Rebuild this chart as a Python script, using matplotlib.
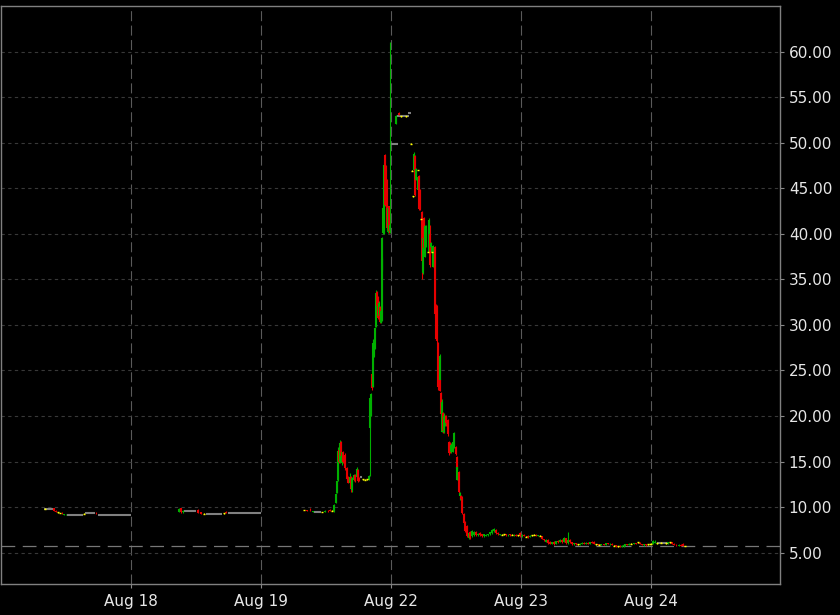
import matplotlib
matplotlib.use("Agg")
import matplotlib.pyplot as plt
from matplotlib.collections import LineCollection

# ---------------- data ----------------
day_labels = ["Aug 17", "Aug 18", "Aug 19", "Aug 22", "Aug 23", "Aug 24"]
tick_days = ["Aug 18", "Aug 19", "Aug 22", "Aug 23", "Aug 24"]
y_ticks = [5, 10, 15, 20, 25, 30, 35, 40, 45, 50, 55, 60]
last_price = 5.73

# Aug 17 (hours of day, OHLC)
aug17_hour = [8.12, 9.78, 10.15, 10.52, 10.89, 11.26, 11.63, 12.00, 15.32, 17.54]
aug17_open = [9.83, 9.85, 9.62, 9.42, 9.38, 9.40, 9.18, 9.20, 9.30, 9.40]
aug17_high = [9.86, 9.88, 9.65, 9.45, 9.41, 9.42, 9.30, 9.28, 9.34, 9.45]
aug17_low = [9.80, 9.60, 9.45, 9.38, 9.35, 9.30, 9.15, 9.16, 9.26, 9.30]
aug17_close = [9.83, 9.62, 9.50, 9.42, 9.38, 9.32, 9.25, 9.26, 9.30, 9.32]

# Aug 18
aug18_hour = [8.86, 9.23, 9.60, 12.37, 12.92, 13.48, 17.17, 17.54]
aug18_open = [9.50, 9.85, 9.45, 9.70, 9.45, 9.28, 9.33, 9.50]
aug18_high = [9.85, 9.88, 9.65, 9.75, 9.50, 9.31, 9.36, 9.52]
aug18_low = [9.45, 9.40, 9.40, 9.35, 9.25, 9.25, 9.30, 9.33]
aug18_close = [9.80, 9.45, 9.60, 9.40, 9.30, 9.28, 9.33, 9.38]

# Aug 19
aug19_hour = [7.94, 8.49, 9.05, 9.60, 11.26, 11.82, 12.37, 12.74, 13.20, 13.53,
              13.85, 14.03, 14.22, 14.40, 14.64, 14.82, 15.05, 15.27, 15.51, 15.88,
              16.15, 16.43, 16.62, 16.93, 17.17, 17.45, 17.72, 17.96, 18.18, 18.83,
              19.20, 19.57, 19.94, 20.18, 20.36, 20.49, 20.68, 20.92, 21.10, 21.29,
              21.47, 21.69, 21.88, 22.06, 22.21, 22.34, 22.47, 22.62, 22.76, 22.95,
              23.17, 23.39, 23.58, 23.72, 23.87]
aug19_open = [9.68, 9.65, 9.62, 9.50, 9.46, 9.50, 9.62, 9.70, 9.60, 9.55,
              10.40, 11.50, 13.00, 16.30, 15.00, 17.20, 14.80, 16.10, 15.70, 14.30,
              13.30, 12.70, 13.30, 11.90, 13.00, 13.50, 13.30, 14.10, 13.20, 13.05,
              13.00, 13.05, 13.00, 18.70, 20.00, 24.60, 23.20, 26.60, 27.40, 29.80,
              33.60, 33.10, 31.00, 32.00, 30.20, 30.40, 36.00, 40.10, 40.10, 48.70,
              47.40, 45.90, 40.20, 43.00, 40.30]
aug19_high = [9.70, 9.70, 9.95, 9.56, 9.49, 9.65, 9.70, 9.80, 9.63, 10.30,
              11.50, 13.00, 16.60, 16.40, 17.40, 17.30, 16.10, 16.20, 15.90, 14.40,
              13.40, 13.80, 13.40, 13.30, 13.60, 13.60, 14.40, 14.20, 13.30, 13.10,
              13.05, 13.10, 13.50, 22.10, 22.50, 24.70, 28.40, 28.50, 29.80, 33.80,
              33.70, 33.20, 32.60, 32.10, 31.60, 37.50, 39.70, 43.00, 47.90, 48.80,
              47.50, 46.00, 43.00, 43.10, 61.00]
aug19_low = [9.65, 9.55, 9.55, 9.45, 9.43, 9.48, 9.50, 9.55, 9.57, 9.50,
             10.40, 11.50, 12.90, 14.80, 14.80, 15.50, 14.60, 14.80, 14.10, 13.00,
             12.60, 12.60, 11.70, 11.70, 12.90, 12.80, 13.20, 12.80, 12.90, 13.00,
             12.95, 13.00, 12.95, 13.40, 20.00, 22.90, 23.20, 26.50, 27.40, 29.80,
             32.00, 30.60, 30.80, 30.20, 30.20, 30.40, 35.90, 40.00, 40.00, 43.00,
             43.40, 40.40, 40.10, 40.10, 40.10]
aug19_close = [9.68, 9.60, 9.56, 9.55, 9.46, 9.60, 9.55, 9.58, 9.60, 10.25,
               11.40, 12.90, 16.20, 15.00, 17.00, 15.60, 16.00, 14.90, 14.30, 13.10,
               12.70, 13.30, 12.00, 13.20, 13.50, 12.90, 14.20, 12.90, 13.00, 13.05,
               13.00, 13.05, 13.40, 22.00, 22.40, 23.10, 28.00, 28.30, 29.70, 33.50,
               32.10, 30.80, 32.40, 30.30, 31.50, 37.20, 39.50, 42.80, 47.60, 43.20,
               43.60, 40.60, 42.80, 40.30, 41.00]

# Aug 22
aug22_hour = [1.02, 1.53, 1.85, 2.77, 3.75, 3.88, 4.06, 4.34, 4.52, 4.74,
              4.98, 5.08, 5.22, 5.48, 5.59, 5.78, 5.96, 6.15, 6.33, 6.55,
              6.83, 7.02, 7.20, 7.48, 7.66, 7.88, 8.18, 8.36, 8.58, 8.77,
              9.05, 9.18, 9.32, 9.54, 9.73, 9.88, 10.10, 10.28, 10.52, 10.71,
              10.98, 11.21, 11.45, 11.72, 12.00, 12.18, 12.31, 12.55, 12.83, 13.02,
              13.24, 13.48, 13.75, 14.12, 14.40, 14.58, 14.95, 15.32, 15.69, 16.06,
              16.43, 16.80, 17.17, 17.54, 17.91, 18.28, 18.65, 19.02, 19.38, 19.75,
              20.12, 20.49, 20.86, 21.23, 21.60, 21.97, 22.34, 22.71, 23.08, 23.45,
              23.82]
aug22_open = [52.10, 53.30, 52.90, 52.90, 49.90, 46.90, 44.10, 47.00, 48.50, 45.90,
              47.00, 44.80, 46.30, 44.80, 41.60, 42.40, 35.70, 41.70, 37.50, 38.60,
              38.00, 37.90, 40.00, 38.50, 38.00, 36.40, 38.60, 32.20, 32.00, 28.00,
              24.00, 24.00, 22.50, 18.30, 20.30, 18.20, 19.00, 20.00, 19.60, 17.20,
              17.00, 16.00, 16.10, 16.50, 16.60, 15.50, 13.00, 13.90, 11.20, 11.20,
              11.00, 9.30, 8.40, 7.90, 6.60, 7.30, 6.80, 6.90, 7.30, 6.90,
              7.20, 7.00, 6.80, 6.85, 6.90, 7.00, 7.20, 7.40, 7.50, 7.20,
              6.95, 6.95, 7.00, 7.00, 6.90, 7.00, 6.95, 6.90, 6.98, 6.90,
              7.20]
aug22_high = [53.00, 53.35, 52.95, 52.95, 49.95, 46.95, 44.15, 49.00, 48.60, 47.20,
              47.05, 46.30, 46.40, 44.90, 41.65, 42.50, 39.70, 41.80, 41.00, 41.00,
              38.05, 41.70, 41.00, 39.10, 38.05, 38.80, 38.70, 32.30, 32.20, 28.10,
              26.80, 24.10, 22.60, 21.90, 20.40, 20.30, 20.10, 20.10, 19.70, 17.30,
              17.10, 17.00, 17.40, 18.30, 16.70, 15.60, 14.60, 14.00, 11.70, 11.30,
              11.20, 9.40, 8.50, 8.00, 7.30, 7.35, 7.50, 7.40, 7.35, 7.20,
              7.30, 7.10, 7.10, 7.00, 7.10, 7.30, 7.60, 7.70, 7.55, 7.30,
              7.10, 7.00, 7.05, 7.05, 7.00, 7.05, 7.00, 7.00, 7.00, 6.95,
              7.30]
aug22_low = [52.10, 53.00, 52.85, 52.85, 49.85, 46.85, 44.05, 46.90, 44.10, 45.90,
             46.95, 44.80, 42.60, 42.60, 41.55, 35.00, 35.60, 38.20, 37.50, 38.50,
             37.95, 37.90, 36.40, 38.00, 37.95, 36.40, 30.90, 28.30, 28.00, 22.90,
             23.90, 22.70, 20.00, 18.30, 18.10, 18.10, 18.90, 18.90, 17.80, 15.70,
             15.90, 15.90, 16.10, 16.50, 15.70, 14.10, 13.00, 11.50, 10.80, 10.80,
             9.30, 8.20, 7.30, 6.70, 6.45, 6.50, 6.70, 6.80, 6.80, 6.85,
             6.80, 6.75, 6.75, 6.80, 6.85, 6.95, 7.10, 7.30, 7.10, 6.95,
             6.90, 6.90, 6.95, 6.85, 6.85, 6.85, 6.90, 6.85, 6.85, 6.85,
             6.75]
aug22_close = [52.90, 53.05, 52.90, 52.90, 49.90, 46.90, 44.10, 48.80, 44.30, 47.10,
               47.00, 46.20, 42.70, 42.70, 41.60, 37.00, 39.50, 38.40, 40.80, 40.50,
               38.00, 41.50, 36.60, 39.00, 38.00, 38.70, 31.20, 28.50, 28.20, 23.20,
               26.60, 22.80, 20.20, 21.50, 18.40, 20.00, 19.90, 19.20, 18.00, 15.90,
               16.20, 16.80, 17.20, 18.10, 15.80, 14.20, 14.40, 11.70, 11.50, 10.90,
               9.40, 8.30, 7.40, 6.80, 7.20, 6.60, 7.40, 7.30, 6.90, 7.10,
               6.90, 6.80, 7.00, 6.95, 7.05, 7.25, 7.50, 7.60, 7.20, 7.00,
               7.05, 6.95, 7.00, 6.90, 6.98, 6.90, 6.95, 6.98, 6.88, 6.90,
               6.85]

# Aug 23
aug23_hour = [0.18, 0.55, 0.92, 1.29, 1.66, 2.03, 2.40, 2.77, 3.14, 3.51,
              3.88, 4.25, 4.62, 4.98, 5.35, 5.72, 6.09, 6.46, 6.83, 7.20,
              7.57, 7.94, 8.31, 8.68, 9.05, 9.42, 9.78, 10.15, 10.52, 10.89,
              11.26, 11.63, 12.00, 12.37, 12.74, 13.11, 13.48, 13.85, 14.22, 14.58,
              14.95, 15.32, 15.69, 16.06, 16.43, 16.80, 17.17, 17.54, 17.91, 18.28,
              18.65, 19.02, 19.38, 19.75, 20.12, 20.49, 20.86, 21.23, 21.60, 21.97,
              22.34, 22.71, 23.08, 23.45, 23.82]
aug23_open = [6.80, 6.95, 6.75, 6.85, 6.70, 6.90, 6.95, 6.95, 6.80, 6.85,
              6.80, 6.50, 6.20, 6.40, 6.20, 6.00, 6.20, 6.00, 6.30, 6.20,
              6.40, 6.20, 6.60, 6.10, 6.40, 6.15, 5.90, 6.05, 5.90, 5.85,
              5.95, 6.10, 6.00, 6.10, 6.00, 6.15, 6.20, 5.90, 5.95, 5.85,
              5.85, 5.95, 5.85, 6.05, 5.90, 6.00, 5.75, 5.80, 5.70, 5.75,
              5.65, 5.70, 5.80, 5.95, 5.85, 6.00, 5.95, 6.05, 6.15, 6.10,
              5.95, 5.80, 5.90, 5.90, 5.95]
aug23_high = [7.00, 7.00, 6.80, 6.90, 6.90, 6.95, 7.00, 7.00, 6.95, 6.90,
              6.85, 6.55, 6.45, 6.45, 6.25, 6.20, 6.25, 6.30, 6.35, 6.50,
              6.45, 6.70, 6.65, 7.30, 6.45, 6.20, 6.10, 6.10, 5.95, 6.05,
              6.15, 6.15, 6.15, 6.15, 6.20, 6.30, 6.25, 5.95, 6.00, 5.90,
              6.00, 6.00, 6.10, 6.10, 6.05, 6.05, 5.80, 5.85, 5.75, 5.80,
              5.80, 5.90, 6.00, 6.00, 6.05, 6.05, 6.10, 6.10, 6.20, 6.15,
              6.00, 5.95, 5.95, 5.95, 6.00]
aug23_low = [6.75, 6.80, 6.70, 6.65, 6.70, 6.85, 6.90, 6.80, 6.78, 6.80,
             6.45, 6.30, 6.15, 6.00, 5.95, 5.95, 5.85, 5.95, 6.10, 6.15,
             6.10, 6.15, 6.00, 6.00, 6.10, 5.80, 5.85, 5.85, 5.85, 5.80,
             5.90, 5.95, 5.95, 5.95, 5.95, 6.05, 5.95, 5.85, 5.80, 5.80,
             5.80, 5.80, 5.80, 5.90, 5.85, 5.80, 5.70, 5.65, 5.65, 5.60,
             5.60, 5.65, 5.75, 5.80, 5.80, 5.95, 5.90, 5.95, 6.10, 5.90,
             5.80, 5.75, 5.75, 5.85, 5.90]
aug23_close = [6.95, 6.85, 6.75, 6.70, 6.85, 6.90, 6.95, 6.85, 6.90, 6.85,
               6.50, 6.35, 6.40, 6.10, 6.00, 6.15, 5.95, 6.25, 6.20, 6.40,
               6.20, 6.60, 6.10, 6.40, 6.15, 5.90, 6.05, 5.90, 5.90, 6.00,
               6.10, 6.00, 6.10, 6.00, 6.15, 6.10, 6.00, 5.90, 5.85, 5.85,
               5.95, 5.85, 6.05, 5.95, 6.00, 5.85, 5.75, 5.70, 5.70, 5.65,
               5.75, 5.85, 5.95, 5.85, 6.00, 6.00, 6.05, 6.00, 6.15, 5.95,
               5.85, 5.90, 5.80, 5.90, 5.95]

# Aug 24
aug24_hour = [0.18, 0.55, 0.92, 1.29, 2.03, 2.77, 3.32, 3.69, 4.06, 4.43,
              4.80, 5.17, 5.54, 5.91, 6.28]
aug24_open = [6.00, 6.00, 6.10, 6.05, 6.10, 6.05, 6.05, 6.15, 6.15, 6.00,
              5.85, 5.78, 5.85, 6.00, 5.73]
aug24_high = [6.05, 6.40, 6.35, 6.10, 6.15, 6.10, 6.20, 6.20, 6.20, 6.05,
              5.90, 5.90, 5.90, 6.05, 5.78]
aug24_low = [5.95, 5.95, 6.05, 6.00, 6.05, 6.00, 6.00, 6.10, 5.95, 5.80,
             5.75, 5.75, 5.75, 5.70, 5.70]
aug24_close = [6.00, 6.30, 6.20, 6.05, 6.10, 6.05, 6.15, 6.15, 6.00, 5.85,
               5.80, 5.85, 5.78, 5.75, 5.73]

# periods without trades (flat price): day, start hour, end hour, price
flat_day = ["Aug 17", "Aug 17", "Aug 17", "Aug 17", "Aug 18", "Aug 18", "Aug 18",
            "Aug 19", "Aug 19", "Aug 22", "Aug 22", "Aug 22", "Aug 24"]
flat_start = [7.94, 12.18, 15.51, 17.91, 9.78, 13.85, 17.91, 9.78, 18.28, 0.00, 1.11, 3.14, 1.29]
flat_end = [9.60, 15.14, 17.35, 24.00, 12.00, 16.80, 24.00, 11.08, 18.65, 1.29, 3.32, 3.69, 3.14]
flat_price = [9.83, 9.17, 9.32, 9.15, 9.58, 9.25, 9.40, 9.50, 13.35, 49.90, 52.95, 53.25, 6.05]

days = {
    "Aug 17": (aug17_hour, aug17_open, aug17_high, aug17_low, aug17_close),
    "Aug 18": (aug18_hour, aug18_open, aug18_high, aug18_low, aug18_close),
    "Aug 19": (aug19_hour, aug19_open, aug19_high, aug19_low, aug19_close),
    "Aug 22": (aug22_hour, aug22_open, aug22_high, aug22_low, aug22_close),
    "Aug 23": (aug23_hour, aug23_open, aug23_high, aug23_low, aug23_close),
    "Aug 24": (aug24_hour, aug24_open, aug24_high, aug24_low, aug24_close),
}

# ---------------- style ----------------
UP = "#00b000"
DOWN = "#e60000"
DOJI = "#ffff00"
FLAT = "#808080"
TXT = "#e6e6e6"

fig = plt.figure(figsize=(8.4, 6.15), dpi=100, facecolor="black")
ax = fig.add_axes([0.0008, 1 - 584.3 / 615, 779.8 / 840, (584.3 - 6) / 615])
ax.set_facecolor("black")

pos_of = {d: i for i, d in enumerate(day_labels)}

# flat gray segments
flat_segs = [[(pos_of[d] + s / 24, p), (pos_of[d] + e / 24, p)]
             for d, s, e, p in zip(flat_day, flat_start, flat_end, flat_price)]
ax.add_collection(LineCollection(flat_segs, colors=FLAT, linewidths=1.5, zorder=3))

wick_segs, wick_cols, body_segs, body_cols = [], [], [], []
doji_x, doji_y = [], []
for d, (hrs, o, h, l, c) in days.items():
    for hr, oo, hh, ll, cc in zip(hrs, o, h, l, c):
        x = pos_of[d] + hr / 24
        if cc > oo:
            col = UP
        elif cc < oo:
            col = DOWN
        else:
            col = DOJI
        wick_segs.append([(x, ll), (x, hh)])
        wick_cols.append(col)
        if cc != oo:
            body_segs.append([(x, oo), (x, cc)])
            body_cols.append(col)
        else:
            doji_x.append(x)
            doji_y.append(oo)

ax.add_collection(LineCollection(wick_segs, colors=wick_cols, linewidths=0.8, zorder=4))
ax.add_collection(LineCollection(body_segs, colors=body_cols, linewidths=1.5, zorder=5))
ax.scatter(doji_x, doji_y, marker="_", s=4, linewidths=1.0, color=DOJI, zorder=6)

# last price line
ax.axhline(last_price, color="#777777", lw=0.9, dashes=(11, 6), zorder=2)

# grids
for i in range(1, 6):
    ax.axvline(i, color="#5a5a5a", lw=0.8, dashes=(9, 4), zorder=1)
for yv in y_ticks:
    ax.axhline(yv, color="#383838", lw=0.8, dashes=(3, 3), zorder=1)

ax.set_xlim(0, 6)
ax.set_ylim(1.53, 65.0)

ax.set_xticks([pos_of[d] for d in tick_days])
ax.set_xticklabels(tick_days)
ax.set_yticks(y_ticks)
ax.set_yticklabels([f"{v:.2f}" for v in y_ticks])
ax.yaxis.tick_right()
ax.tick_params(axis="both", colors="#888888", labelcolor=TXT, labelsize=11,
               length=3, width=0.8, direction="out")
ax.tick_params(axis="y", pad=3)
ax.tick_params(axis="x", pad=4)

for sp in ax.spines.values():
    sp.set_color("#808080")
    sp.set_linewidth(1.0)

fig.savefig("out.png", dpi=100, facecolor="black")
